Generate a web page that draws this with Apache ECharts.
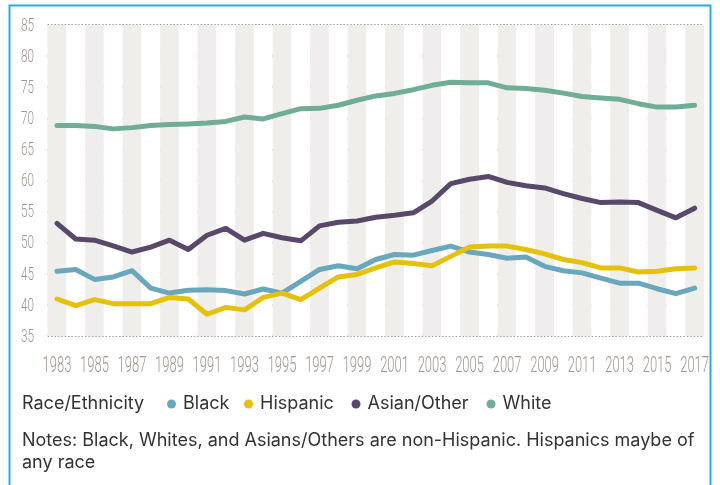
<!DOCTYPE html>
<html>
<head>
<meta charset="utf-8">
<script src="https://cdn.jsdelivr.net/npm/echarts@6/dist/echarts.min.js"></script>
<style>
  html, body { margin: 0; padding: 0; background: #ffffff; }
  #chart { width: 720px; height: 485px; }
</style>
</head>
<body>
<div id="chart"></div>
<script>
// Share of each group (%) by year, 1983–2017
const years = [];
for (let y = 1983; y <= 2017; y++) years.push(String(y));

// Tick labels: every other year on the x axis, every 5 points on the y axis
const xTickLabels = years.filter((y, i) => i % 2 === 0);
const yTickLabels = [35, 40, 45, 50, 55, 60, 65, 70, 75, 80, 85];

const black = [45.4, 45.7, 44.1, 44.5, 45.5, 42.7, 41.9, 42.35, 42.45, 42.3,
  41.75, 42.55, 41.9, 43.8, 45.7, 46.3, 45.8, 47.3, 48.1, 48.0, 48.75, 49.45,
  48.5, 48.1, 47.5, 47.7, 46.2, 45.5, 45.15, 44.3, 43.5, 43.5, 42.6, 41.8, 42.7];
const hispanic = [40.95, 39.9, 40.85, 40.2, 40.2, 40.2, 41.2, 40.95, 38.5, 39.6,
  39.2, 41.2, 41.9, 40.85, 42.7, 44.5, 44.9, 45.95, 46.9, 46.65, 46.3, 47.8,
  49.3, 49.45, 49.45, 48.9, 48.2, 47.3, 46.8, 45.95, 45.95, 45.3, 45.4, 45.8, 45.95];
const asianOther = [53.1, 50.6, 50.4, 49.5, 48.5, 49.3, 50.4, 48.9, 51.2, 52.3,
  50.4, 51.5, 50.8, 50.3, 52.7, 53.3, 53.5, 54.1, 54.4, 54.8, 56.7, 59.5,
  60.2, 60.65, 59.7, 59.15, 58.8, 57.9, 57.1, 56.45, 56.55, 56.45, 55.2, 54.0, 55.55];
const white = [68.85, 68.85, 68.7, 68.3, 68.5, 68.85, 69.0, 69.1, 69.25, 69.5,
  70.2, 69.9, 70.75, 71.55, 71.6, 72.1, 72.9, 73.6, 74.0, 74.6, 75.3, 75.8,
  75.7, 75.7, 74.9, 74.8, 74.5, 74.05, 73.5, 73.25, 73.05, 72.35, 71.8, 71.8, 72.1];

const seriesNames = ['Black', 'Hispanic', 'Asian/Other', 'White'];
const seriesData = [black, hispanic, asianOther, white];
const seriesColors = ['#6aa7bd', '#e6c10b', '#584869', '#70ad97'];

const Y_MIN = 35, Y_MAX = 85, Y_STEP = 5;

const tickFont = "Roboto, 'Liberation Sans', sans-serif";
const bodyFont = "Inter, 'Noto Sans', sans-serif";
const tickColor = '#a2978e';
const textColor = '#333333';

const chart = echarts.init(document.getElementById('chart'), null, { renderer: 'canvas' });

// Condensed tick label drawn at a data coordinate
function tickText(x, y, text, align, size, squeeze) {
  return {
    type: 'text',
    x: x,
    y: y,
    scaleX: squeeze,
    scaleY: 1,
    style: {
      text: text,
      x: 0,
      y: 0,
      align: align,
      verticalAlign: 'middle',
      fill: tickColor,
      fontFamily: tickFont,
      fontWeight: 300,
      fontSize: size
    }
  };
}

// One small legend per entry so each sits where the key row needs it
const legendLefts = [162, 239, 346.5, 481.5];

chart.setOption({
  animation: false,
  backgroundColor: '#ffffff',
  grid: { left: 47.6, right: 16, top: 25, bottom: 149, containLabel: false },
  xAxis: {
    type: 'category',
    data: years,
    boundaryGap: true,
    axisLine: { show: false },
    axisTick: { show: false },
    axisLabel: { show: false },
    splitLine: { show: false },
    splitArea: {
      show: true,
      interval: 0,
      areaStyle: { color: ['#efeeea', '#ffffff'] }
    }
  },
  yAxis: {
    type: 'value',
    min: Y_MIN,
    max: Y_MAX,
    interval: Y_STEP,
    axisLine: { show: false },
    axisTick: { show: false },
    axisLabel: { show: false },
    splitLine: {
      show: true,
      lineStyle: { color: '#8f837b', width: 1.6, type: [1.6, 1.8] }
    }
  },
  legend: seriesNames.map((name, i) => ({
    left: legendLefts[i],
    top: 390,
    icon: 'circle',
    itemWidth: 13,
    itemHeight: 9,
    textStyle: { fontFamily: bodyFont, fontSize: 18, color: textColor },
    data: [name]
  })),
  series: seriesNames.map((name, i) => ({
    name: name,
    type: 'line',
    data: seriesData[i],
    showSymbol: false,
    symbol: 'circle',
    itemStyle: { color: seriesColors[i] },
    lineStyle: { color: seriesColors[i], width: 5, join: 'round', cap: 'round' },
    z: 3
  })).concat([
    {
      name: 'x ticks',
      type: 'custom',
      silent: true,
      clip: false,
      data: xTickLabels.map(y => [y, Y_MIN]),
      renderItem: function (params, api) {
        const p = api.coord([api.value(0), Y_MIN]);
        return tickText(p[0], p[1] + 30, xTickLabels[params.dataIndex], 'center', 22, 0.59);
      }
    },
    {
      name: 'y ticks',
      type: 'custom',
      silent: true,
      clip: false,
      data: yTickLabels.map(v => [years[0], v]),
      renderItem: function (params, api) {
        const p = api.coord([api.value(0), api.value(1)]);
        return tickText(params.coordSys.x - 13.5, p[1] + 1, String(yTickLabels[params.dataIndex]), 'right', 19, 0.62);
      }
    }
  ]),
  graphic: [
    {
      type: 'rect',
      shape: { x: 9.5, y: 5.5, width: 701, height: 500 },
      style: { fill: null, stroke: '#2aaae2', lineWidth: 2 },
      silent: true,
      z: 100
    },
    {
      type: 'text',
      left: 22,
      top: 395,
      style: {
        text: 'Race/Ethnicity',
        fontFamily: bodyFont,
        fontSize: 18,
        fill: textColor
      }
    },
    {
      type: 'text',
      left: 22,
      top: 430,
      style: {
        text: 'Notes: Black, Whites, and Asians/Others are non-Hispanic. Hispanics maybe of\nany race',
        fontFamily: bodyFont,
        fontSize: 18,
        lineHeight: 22,
        fill: textColor
      }
    }
  ]
});
</script>
</body>
</html>
